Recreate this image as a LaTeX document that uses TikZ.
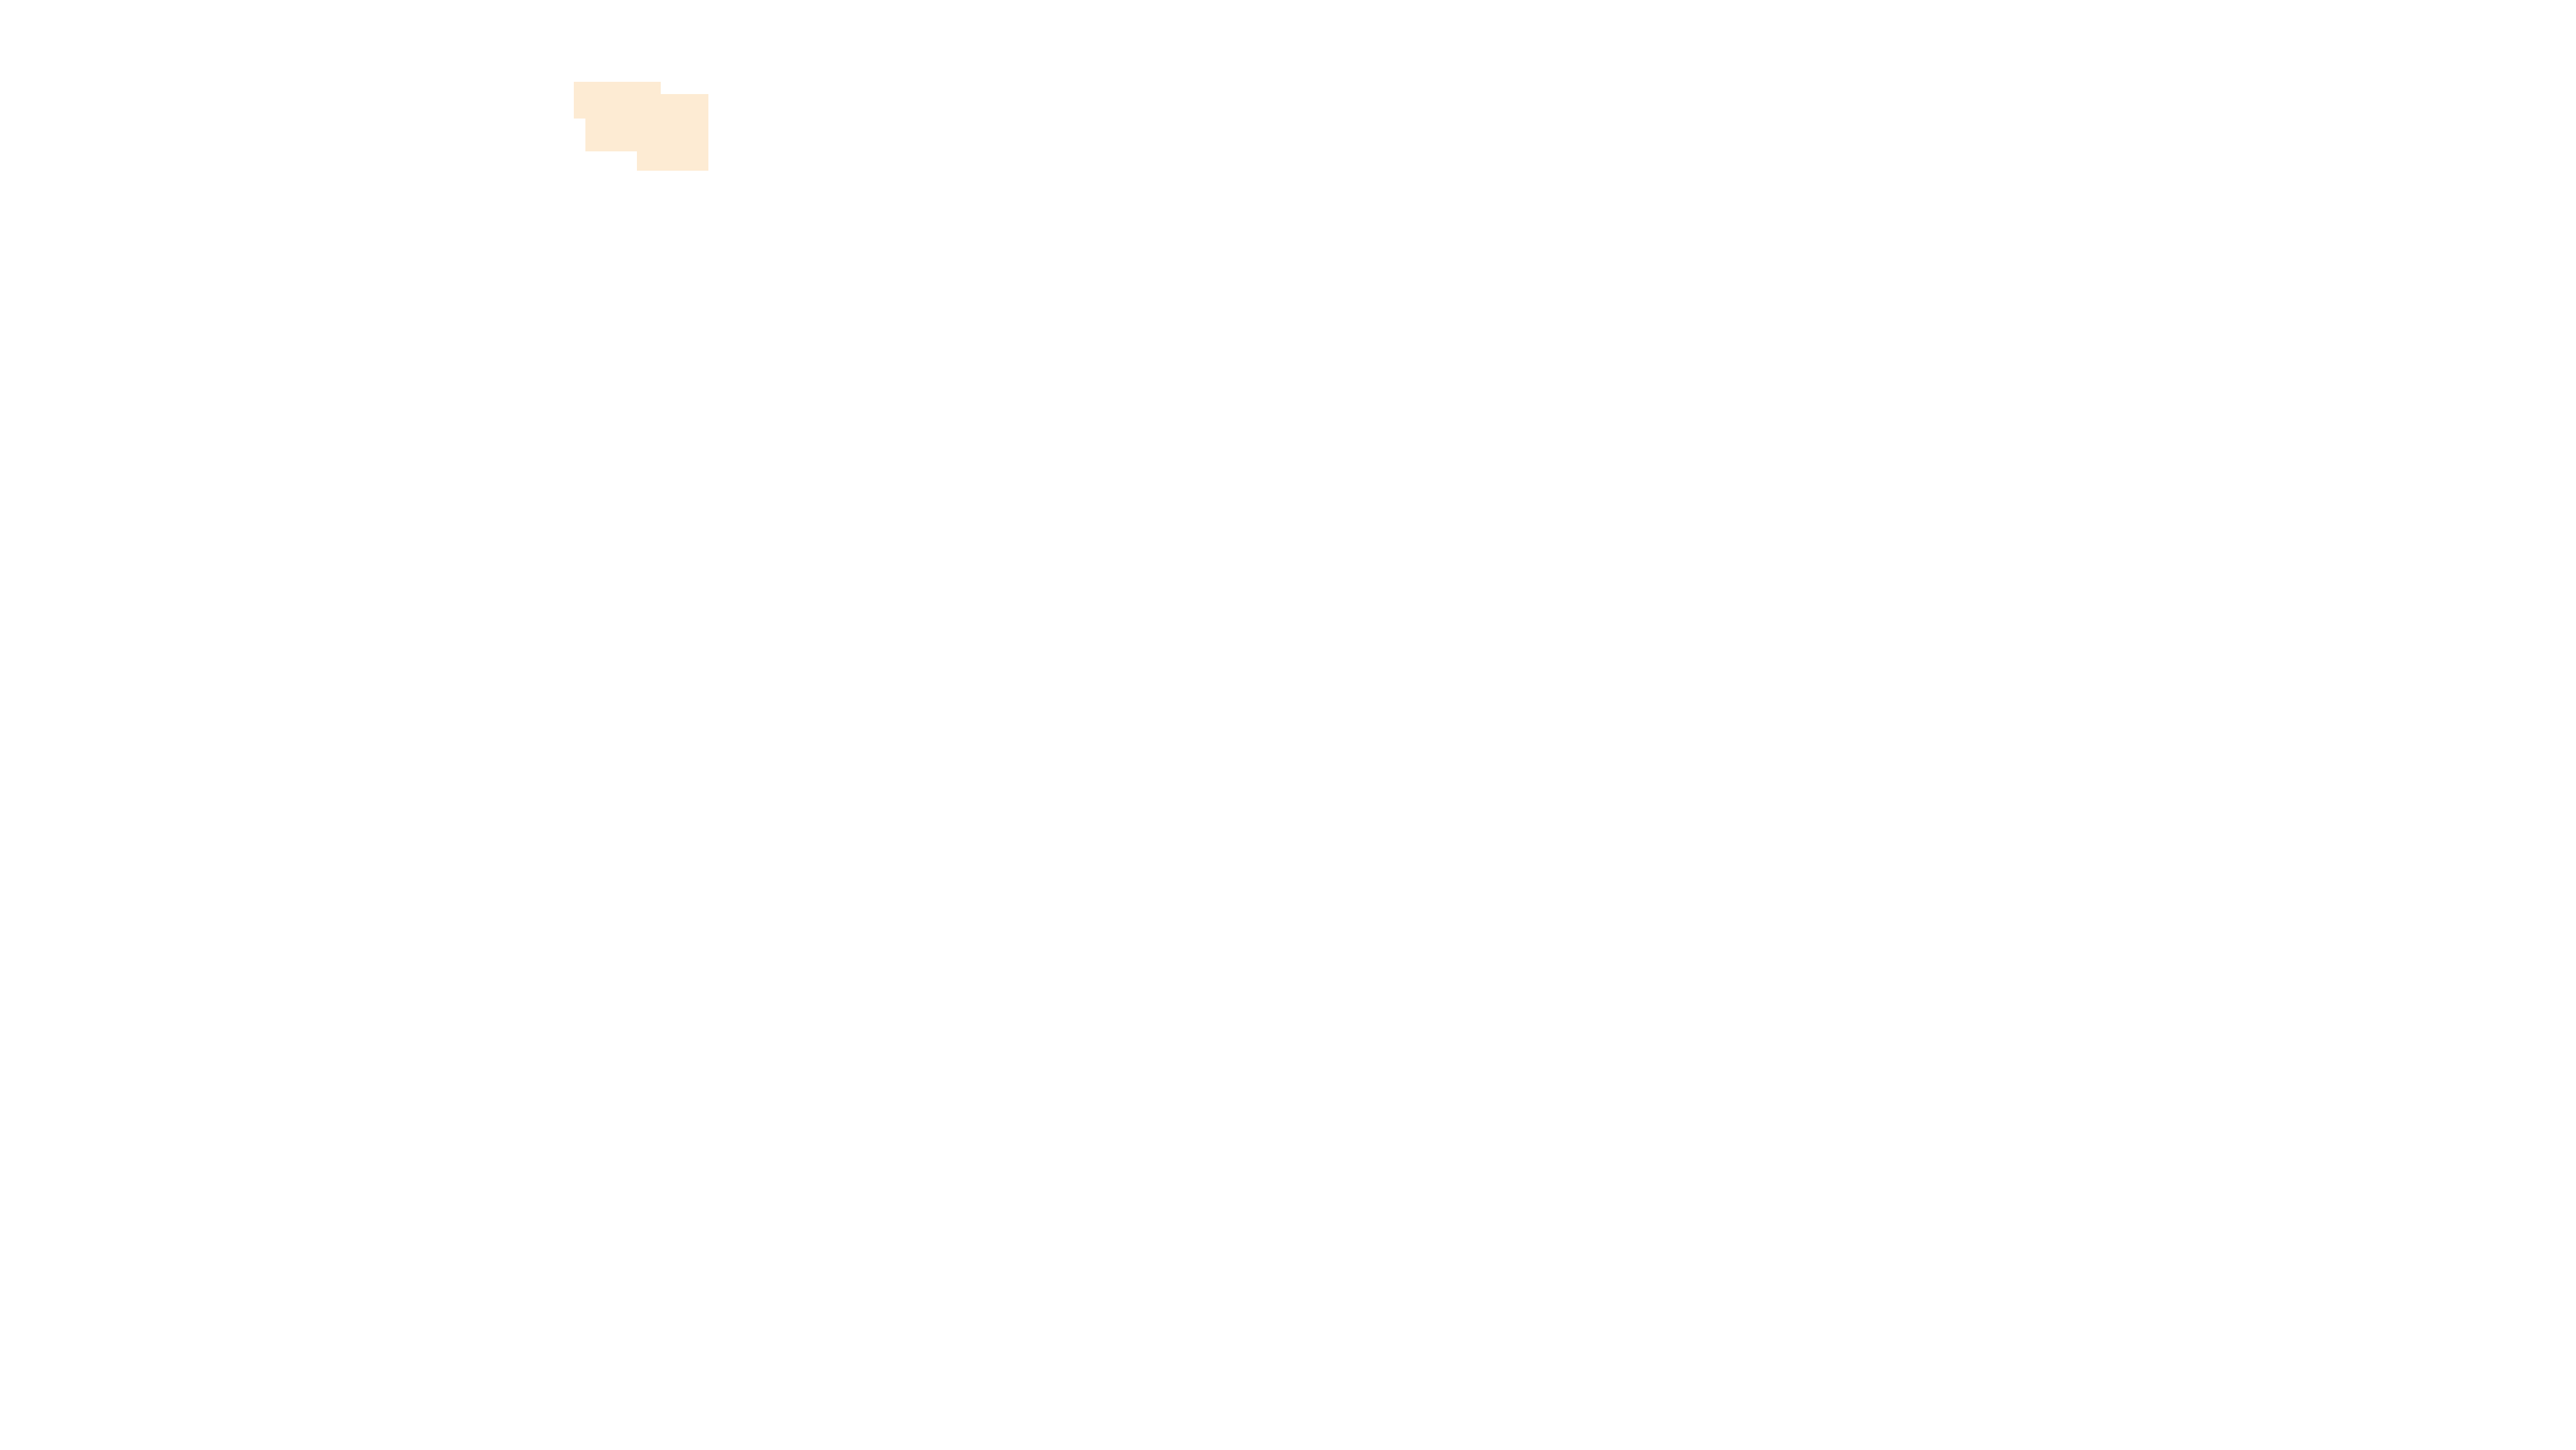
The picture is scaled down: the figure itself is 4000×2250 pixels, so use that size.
\documentclass[tikz,border=0pt]{standalone}
\usepackage{xcolor}
\definecolor{peach}{RGB}{253,235,211}

\begin{document}
\begin{tikzpicture}[x=0.01cm,y=-0.01cm]
\useasboundingbox (0,0) rectangle (4000,2250);
% Patches
\fill[peach] (891,127) rectangle (1026,184);
\fill[peach] (909,160) rectangle (1010,235);
\fill[peach] (989,146) rectangle (1100,265);
\end{tikzpicture}
\end{document}
